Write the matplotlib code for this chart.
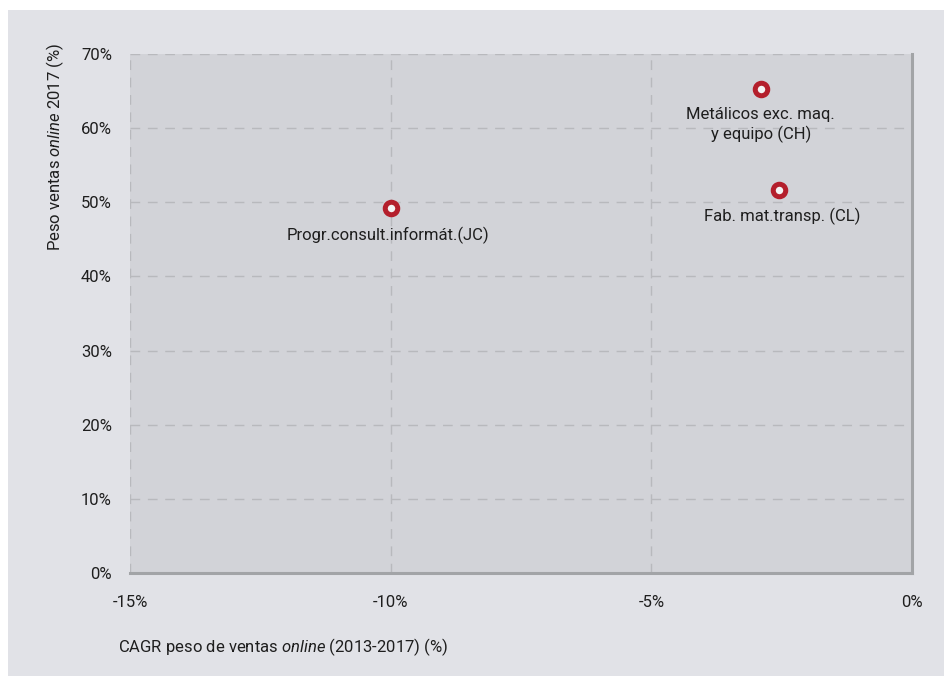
import matplotlib.pyplot as plt
from matplotlib.patches import Rectangle
from matplotlib.ticker import FuncFormatter

# sectors: CAGR of online sales share (2013-2017) vs online share 2017
sectors = ["Progr.consult.informát.(JC)", "Metálicos exc. maq.\ny equipo (CH)", "Fab. mat.transp. (CL)"]
cagr = [-10.0, -2.9, -2.55]
share_2017 = [49.2, 65.3, 51.7]
label_offsets = [(-2, -13), (0, -13), (2, -13)]

x_ticks = [-15, -10, -5, 0]
y_ticks = [0, 10, 20, 30, 40, 50, 60, 70]

plt.rcParams["font.family"] = ["Roboto", "DejaVu Sans"]
plt.rcParams["mathtext.fontset"] = "custom"
plt.rcParams["mathtext.it"] = "Roboto:italic"
plt.rcParams["mathtext.rm"] = "Roboto"

outer_bg = "#e1e2e7"
plot_bg = "#d2d3d8"
grid_col = "#b8b9bd"
red = "#b41f2c"
text_col = "#1e1e1e"
fs = 12

fig = plt.figure(figsize=(9.45, 6.76), dpi=100)
fig.patch.set_facecolor("white")
fig.patches.append(Rectangle((8 / 945, 0), 1, 1 - 10 / 676, transform=fig.transFigure,
                             facecolor=outer_bg, edgecolor="none", zorder=-1))

ax = fig.add_axes([130 / 945, 103 / 676, 782 / 945, 519 / 676])
ax.set_facecolor(plot_bg)
ax.set_xlim(-15, 0)
ax.set_ylim(0, 70)
ax.set_xticks(x_ticks)
ax.set_yticks(y_ticks)
ax.xaxis.set_major_formatter(FuncFormatter(lambda v, p: f"{v:.0f}%"))
ax.yaxis.set_major_formatter(FuncFormatter(lambda v, p: f"{v:.0f}%"))
ax.grid(True, color=grid_col, linestyle=(0, (7, 5.5)), linewidth=1)
ax.set_axisbelow(True)
ax.tick_params(axis="both", length=0, labelsize=fs, labelcolor=text_col)
ax.tick_params(axis="x", pad=16)
ax.tick_params(axis="y", pad=13)

for side in ["left", "top"]:
    ax.spines[side].set_visible(False)
for side in ["right", "bottom"]:
    ax.spines[side].set_color("#a2a4a7")
    ax.spines[side].set_linewidth(2.2)

ax.plot(cagr, share_2017, linestyle="none", marker="o", markersize=9,
        markerfacecolor="#f4f4f4", markeredgecolor=red, markeredgewidth=3.6, zorder=3)

for name, x, y, off in zip(sectors, cagr, share_2017, label_offsets):
    ax.annotate(name, (x, y), xytext=off, textcoords="offset points",
                ha="center", va="top", fontsize=fs, color=text_col, linespacing=1.25)

fig.text(55 / 945, 1 - 43 / 676, r"Peso ventas $\mathit{online}$ 2017 (%)", rotation=90,
         ha="center", va="top", fontsize=fs, color=text_col)
fig.text(118 / 945, 1 - 647 / 676, r"CAGR peso de ventas $\mathit{online}$ (2013-2017) (%)",
         ha="left", va="center", fontsize=fs, color=text_col)

fig.savefig("out.png", dpi=100)
